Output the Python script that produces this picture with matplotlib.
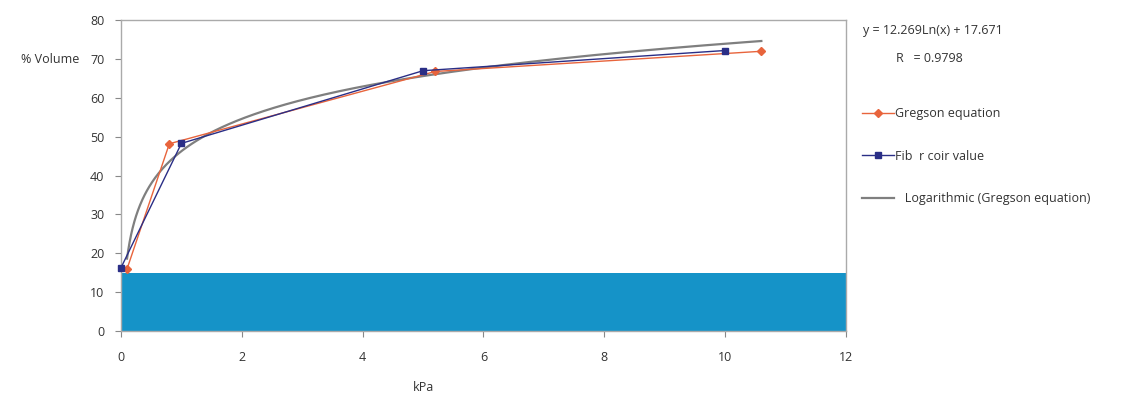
import numpy as np
import matplotlib
matplotlib.use("Agg")
import matplotlib.pyplot as plt

plt.rcParams['font.family'] = ['Open Sans', 'DejaVu Sans']

# data
gregson_x = [0.1, 0.8, 5.2, 10.6]
gregson_y = [16.0, 48.2, 66.8, 72.0]
fibre_x = [0.0, 1.0, 5.0, 10.0]
fibre_y = [16.3, 48.3, 67.0, 72.2]
band_top = 15
x_ticks = [0, 2, 4, 6, 8, 10, 12]
y_ticks = [0, 10, 20, 30, 40, 50, 60, 70, 80]
eq_text = "y = 12.269Ln(x) + 17.671"
r_text = "R   = 0.9798"

fig = plt.figure(figsize=(11.47, 3.96), dpi=100)
ax = fig.add_axes([0.1055, 0.164, 0.632, 0.785])

# blue band at the bottom
ax.axhspan(0, band_top, xmin=0, xmax=1, color="#1593c8", zorder=1, lw=0)

# logarithmic trendline of the Gregson series
a, b = np.polyfit(np.log(gregson_x), gregson_y, 1)
tx = np.geomspace(min(gregson_x), max(gregson_x), 200)
ax.plot(tx, a * np.log(tx) + b, color="#7f7f7f", lw=1.6, zorder=2,
        label="   Logarithmic (Gregson equation)")

ax.plot(gregson_x, gregson_y, color="#e8643c", lw=1, marker="D", ms=4,
        zorder=3, label="Gregson equation")
ax.plot(fibre_x, fibre_y, color="#2a2e86", lw=1, marker="s", ms=5,
        zorder=4, label="Fib  r coir value", clip_on=False)

ax.set_xlim(0, 12)
ax.set_ylim(0, 80)
ax.set_xticks(x_ticks)
ax.set_yticks(y_ticks)
ax.tick_params(direction="out", length=4, color="#888888", labelsize=9,
               labelcolor="#333333")
ax.tick_params(axis="x", pad=10)
ax.tick_params(axis="y", pad=8)
for s in ax.spines.values():
    s.set_color("#aaaaaa")
    s.set_linewidth(1)

ax.text(-0.057, 70, "% Volume", transform=ax.get_yaxis_transform(),
        ha="right", va="center", fontsize=9, color="#333333")
fig.text(0.369, 0.005, "kPa", ha="center", va="bottom", fontsize=9,
         color="#333333")

fig.text(0.752, 0.922, eq_text, fontsize=9, color="#333333", va="center")
fig.text(0.781, 0.852, r_text, fontsize=9, color="#333333", va="center")

h, l = ax.get_legend_handles_labels()
order = [1, 2, 0]
fig.legend([h[i] for i in order], [l[i] for i in order],
           loc="upper left", bbox_to_anchor=(0.742, 0.757), frameon=False,
           fontsize=9, labelspacing=2.35, handlelength=2.5, handletextpad=0.1,
           labelcolor="#333333")

fig.savefig("out.png", dpi=100)
